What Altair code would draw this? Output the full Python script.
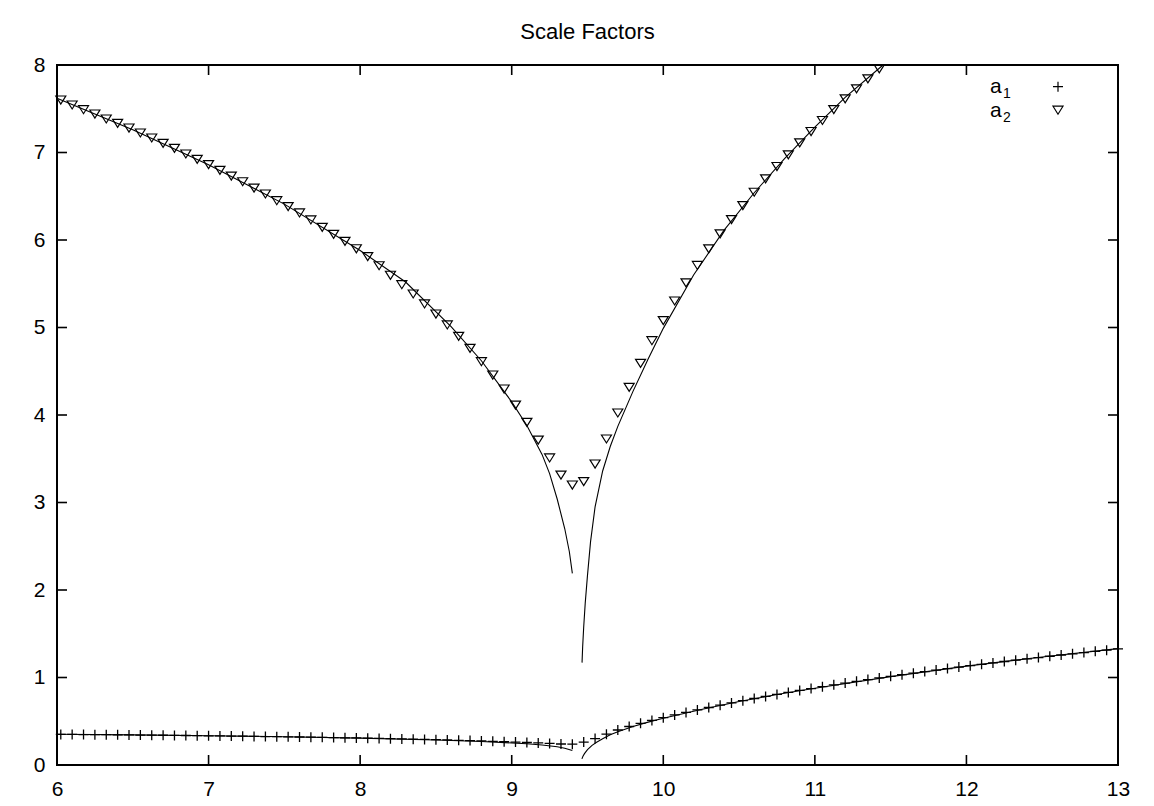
import altair as alt
import pandas as pd

# ---------------- data ----------------
title_text = "Scale Factors"
x_ticks = [6, 7, 8, 9, 10, 11, 12, 13]
y_ticks = [0, 1, 2, 3, 4, 5, 6, 7, 8]
legend_base = ["a", "a"]
legend_sub = ["1", "2"]

x_pts = [6.025, 6.1, 6.175, 6.25, 6.325, 6.4, 6.475, 6.55, 6.625, 6.7, 6.775, 6.85,
         6.925, 7.0, 7.075, 7.15, 7.225, 7.3, 7.375, 7.45, 7.525, 7.6, 7.675, 7.75,
         7.825, 7.9, 7.975, 8.05, 8.125, 8.2, 8.275, 8.35, 8.425, 8.5, 8.575, 8.65,
         8.725, 8.8, 8.875, 8.95, 9.025, 9.1, 9.175, 9.25, 9.325, 9.4, 9.475, 9.55,
         9.625, 9.7, 9.775, 9.85, 9.925, 10.0, 10.075, 10.15, 10.225, 10.3, 10.375,
         10.45, 10.525, 10.6, 10.675, 10.75, 10.825, 10.9, 10.975, 11.05, 11.125,
         11.2, 11.275, 11.35, 11.425, 11.5, 11.575, 11.65, 11.725, 11.8, 11.875,
         11.95, 12.025, 12.1, 12.175, 12.25, 12.325, 12.4, 12.475, 12.55, 12.625,
         12.7, 12.775, 12.85, 12.925, 13.0]

a1_pts = [0.350, 0.349, 0.348, 0.347, 0.346, 0.345, 0.344, 0.342, 0.341, 0.340,
          0.338, 0.337, 0.335, 0.334, 0.332, 0.331, 0.329, 0.327, 0.325, 0.324,
          0.322, 0.320, 0.318, 0.316, 0.313, 0.311, 0.309, 0.306, 0.304, 0.301,
          0.298, 0.295, 0.292, 0.289, 0.286, 0.282, 0.279, 0.275, 0.271, 0.267,
          0.262, 0.257, 0.252, 0.246, 0.240, 0.238, 0.262, 0.302, 0.352, 0.400,
          0.440, 0.476, 0.510, 0.541, 0.572, 0.601, 0.630, 0.657, 0.684, 0.710,
          0.735, 0.760, 0.784, 0.807, 0.830, 0.852, 0.874, 0.895, 0.916, 0.936,
          0.956, 0.976, 0.995, 1.014, 1.032, 1.050, 1.068, 1.085, 1.102, 1.119,
          1.135, 1.151, 1.167, 1.183, 1.198, 1.213, 1.228, 1.243, 1.257, 1.271,
          1.285, 1.299, 1.312, 1.326]

a2_pts = [7.600, 7.543, 7.489, 7.440, 7.383, 7.333, 7.280, 7.223, 7.166, 7.104,
          7.047, 6.983, 6.921, 6.861, 6.796, 6.731, 6.666, 6.594, 6.526, 6.449,
          6.381, 6.309, 6.229, 6.144, 6.064, 5.984, 5.900, 5.810, 5.706, 5.597,
          5.489, 5.383, 5.269, 5.154, 5.029, 4.898, 4.761, 4.609, 4.457, 4.297,
          4.114, 3.916, 3.714, 3.509, 3.314, 3.200, 3.238, 3.440, 3.726, 4.023,
          4.315, 4.590, 4.849, 5.078, 5.303, 5.511, 5.709, 5.899, 6.071, 6.234,
          6.394, 6.546, 6.699, 6.840, 6.974, 7.111, 7.240, 7.366, 7.491, 7.614,
          7.728, 7.842, 7.957]

# fitted curves (two branches each, broken at the singularity)
a1_left_x = [6.0, 6.5, 7.0, 7.5, 8.0, 8.5, 8.8, 9.0, 9.1, 9.2, 9.3, 9.35, 9.4]
a1_left_y = [0.352, 0.344, 0.335, 0.323, 0.307, 0.285, 0.268, 0.252, 0.242, 0.228,
             0.208, 0.192, 0.166]
a1_right_x = [9.463, 9.47, 9.48, 9.5, 9.53, 9.56, 9.6, 9.65, 9.7, 9.8, 9.9, 10.0,
              10.25, 10.5, 10.75, 11.0, 11.5, 12.0, 12.5, 13.0]
a1_right_y = [0.07, 0.10, 0.13, 0.175, 0.225, 0.26, 0.30, 0.345, 0.38, 0.44, 0.49,
              0.535, 0.635, 0.725, 0.805, 0.877, 1.010, 1.130, 1.235, 1.330]
a2_left_x = [6.0, 6.5, 7.0, 7.5, 8.0, 8.3, 8.6, 8.8, 9.0, 9.1, 9.2, 9.25, 9.3, 9.35,
             9.38, 9.4]
a2_left_y = [7.62, 7.26, 6.86, 6.41, 5.88, 5.52, 5.01, 4.62, 4.15, 3.88, 3.55, 3.33,
             3.04, 2.70, 2.44, 2.19]
a2_right_x = [9.464, 9.468, 9.475, 9.485, 9.5, 9.52, 9.55, 9.6, 9.65, 9.7, 9.8, 9.9,
              10.0, 10.2, 10.4, 10.6, 10.8, 11.0, 11.2, 11.45]
a2_right_y = [1.17, 1.35, 1.58, 1.85, 2.17, 2.55, 2.95, 3.36, 3.64, 3.87, 4.27, 4.64,
              4.99, 5.60, 6.11, 6.54, 6.93, 7.29, 7.63, 8.0]

# ---------------- chart ----------------
W, H = 1061, 700
FONT = "Liberation Sans"
FS = 21
TICK = 10

df_a1 = pd.DataFrame({"x": x_pts, "y": a1_pts})
df_a2 = pd.DataFrame({"x": x_pts[:len(a2_pts)], "y": a2_pts})

segs = []
for name, xs_, ys_ in [("a1L", a1_left_x, a1_left_y), ("a1R", a1_right_x, a1_right_y),
                       ("a2L", a2_left_x, a2_left_y), ("a2R", a2_right_x, a2_right_y)]:
    segs.append(pd.DataFrame({"x": xs_, "y": ys_, "seg": name, "i": range(len(xs_))}))
df_lines = pd.concat(segs, ignore_index=True)

xscale = alt.Scale(domain=[6, 13], nice=False, zero=False)
yscale = alt.Scale(domain=[0, 8], nice=False, zero=False)

xaxis = alt.Axis(values=x_ticks, format="d", labelFontSize=FS, labelFont=FONT,
                 labelColor="black", ticks=False, tickSize=0, domain=False, grid=False,
                 labelPadding=13, title=None, labelFlush=False, labelOverlap=False)
yaxis = alt.Axis(values=y_ticks, format="d", labelFontSize=FS, labelFont=FONT,
                 labelColor="black", ticks=False, tickSize=0, domain=False, grid=False,
                 labelPadding=12, title=None, labelFlush=False, labelOverlap=False)

X = lambda f="x:Q": alt.X(f, scale=xscale, axis=xaxis)
Y = lambda f="y:Q": alt.Y(f, scale=yscale, axis=yaxis)

plus_path = "M-1,0H1M0,-1V1"
tri_path = "M-1,-0.8L1,-0.8L0,0.8Z"

lines = alt.Chart(df_lines).mark_line(color="black", strokeWidth=1.1).encode(
    x=X(), y=Y(), detail="seg:N", order="i:Q")

pts1 = alt.Chart(df_a1).mark_point(shape=plus_path, size=100, filled=False,
                                   color="black", strokeWidth=1.3, opacity=1).encode(x=X(), y=Y())
pts2 = alt.Chart(df_a2).mark_point(shape=tri_path, size=100, filled=False,
                                   color="black", strokeWidth=1.2, opacity=1).encode(x=X(), y=Y())

df_xt = pd.DataFrame({"t": x_ticks})
df_yt = pd.DataFrame({"t": y_ticks})
tick_b = alt.Chart(df_xt).mark_rule(color="black", strokeWidth=1.6).encode(
    x=X("t:Q"), y=alt.value(H - TICK), y2=alt.value(H))
tick_t = alt.Chart(df_xt).mark_rule(color="black", strokeWidth=1.6).encode(
    x=X("t:Q"), y=alt.value(0), y2=alt.value(TICK))
tick_l = alt.Chart(df_yt).mark_rule(color="black", strokeWidth=1.6).encode(
    y=Y("t:Q"), x=alt.value(0), x2=alt.value(TICK))
tick_r = alt.Chart(df_yt).mark_rule(color="black", strokeWidth=1.6).encode(
    y=Y("t:Q"), x=alt.value(W - TICK), x2=alt.value(W))

# title as a text line above the plot frame
df_title = pd.DataFrame({"t": [title_text]})
title_layer = alt.Chart(df_title).mark_text(
    font=FONT, fontSize=22, color="black", align="center", baseline="alphabetic").encode(
    text="t:N", x=alt.value(W / 2), y=alt.value(-26.5))

# legend (key) in the top-right corner, gnuplot style
LX, SUBX, SYMX = 933, 946, 1001
ROW0, DROW = 28.3, 23.5
legend_layers = []
shapes = [plus_path, tri_path]
for r in range(2):
    base_y = ROW0 + r * DROW
    df_l = pd.DataFrame({"b": [legend_base[r]], "s": [legend_sub[r]]})
    legend_layers.append(alt.Chart(df_l).mark_text(
        font=FONT, fontSize=FS, color="black", align="left", baseline="alphabetic").encode(
        text="b:N", x=alt.value(LX), y=alt.value(base_y)))
    legend_layers.append(alt.Chart(df_l).mark_text(
        font=FONT, fontSize=14, color="black", align="left", baseline="alphabetic").encode(
        text="s:N", x=alt.value(SUBX), y=alt.value(base_y + 5)))
    legend_layers.append(alt.Chart(df_l).mark_point(
        shape=shapes[r], size=100, filled=False, color="black", strokeWidth=1.2,
        opacity=1).encode(x=alt.value(SYMX), y=alt.value(base_y - 6.6)))

chart = alt.layer(lines, pts1, pts2, tick_b, tick_t, tick_l, tick_r, title_layer,
                  *legend_layers).properties(
    width=W, height=H,
    padding={"left": 49, "top": 57, "right": 20, "bottom": 33},
    autosize=alt.AutoSizeParams(type="none"),
    background="white",
).configure_view(stroke="black", strokeWidth=2, clip=False)

chart.save("out.html", embed_options={"renderer": "svg", "actions": False})
